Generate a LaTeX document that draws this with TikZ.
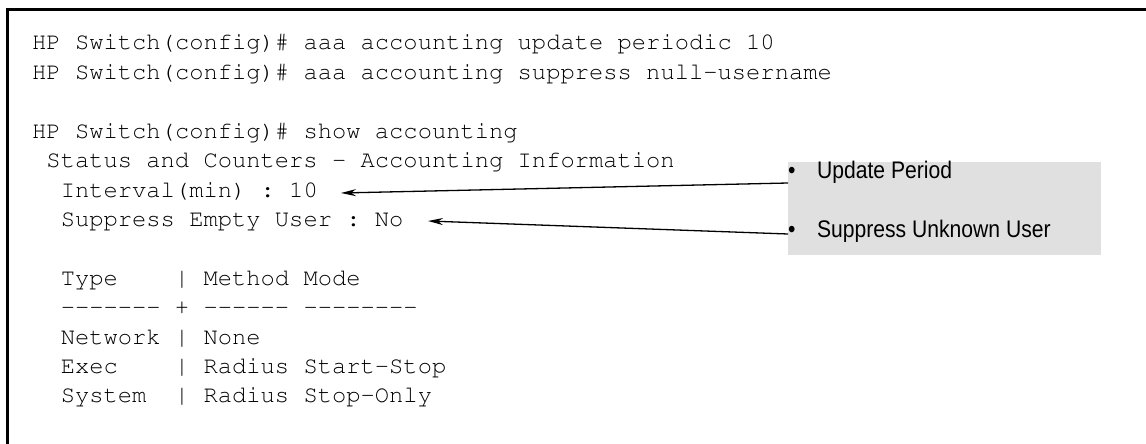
\documentclass[tikz,border=0pt]{standalone}
\usepackage[T1,TU]{fontenc}
\usepackage{fontspec}
\setmainfont{Liberation Sans}
\newfontfamily\labelfont[FakeStretch=0.88]{Liberation Sans}
\newcommand{\couriertext}{\fontencoding{T1}\fontfamily{pcr}\fontseries{m}\fontshape{n}\fontsize{23.8pt}{29.4pt}\selectfont\frenchspacing}
\usetikzlibrary{arrows.meta}
\definecolor{panelgray}{RGB}{224,224,224}
\tikzset{
  codeline/.style={anchor=base west, inner sep=0pt, font=\couriertext},
  labeltext/.style={anchor=base west, inner sep=0pt, font=\labelfont\fontsize{24pt}{28pt}\selectfont},
  panel/.style={fill=panelgray, draw=none},
  frame/.style={line width=3pt},
  pointer/.style={line width=1.3pt, -{Stealth[length=15pt,width=7pt]}}
}
\begin{document}
\begin{tikzpicture}[x=1pt,y=-1pt]
\useasboundingbox (0,0) rectangle (1146,444);
% frame (left and top edges visible)
\draw[frame] (7,446) -- (7,10) -- (1148,10);
% grey panel
\node[panel, minimum width=313pt, minimum height=93pt, inner sep=0pt, anchor=north west] (box) at (788,162) {};
% code lines
\node[codeline] (l1) at (32,50.0) {HP Switch(config)\# aaa accounting update periodic 10};
\node[codeline] (l2) at (32,79.4) {HP Switch(config)\# aaa accounting suppress null{-}username};
\node[codeline] (l4) at (32,138.2) {HP Switch(config)\# show accounting};
\node[codeline] (l5) at (32,167.6) {~Status and Counters {-} Accounting Information};
\node[codeline] (l6) at (32,197.0) {~~Interval(min) : 10};
\node[codeline] (l7) at (32,226.4) {~~Suppress Empty User : No};
\node[codeline] (l9) at (32,285.2) {~~Type~~~~| Method Mode};
\node[codeline] (l10) at (32,314.6) {~~-{}-{}-{}-{}-{}-{}-~+ -{}-{}-{}-{}-{}- -{}-{}-{}-{}-{}-{}-{}-};
\node[codeline] (l11) at (32,344.0) {~~Network | None};
\node[codeline] (l12) at (32,373.4) {~~Exec~~~~| Radius Start{-}Stop};
\node[codeline] (l13) at (32,402.8) {~~System~~| Radius Stop{-}Only};
% labels
\node[labeltext] (u1) at (788,178) {•\hspace{21.5pt}Update Period};
\node[labeltext] (u2) at (788,237) {•\hspace{21.5pt}Suppress Unknown User};
% connectors
\coordinate (s1) at (box.west |- 0,183);
\coordinate (s2) at (box.west |- 0,234);
\coordinate (t1) at (341,193);
\coordinate (t2) at (428,221);
\draw[pointer] (s1) -- (t1);
\draw[pointer] (s2) -- (t2);
\end{tikzpicture}
\end{document}
